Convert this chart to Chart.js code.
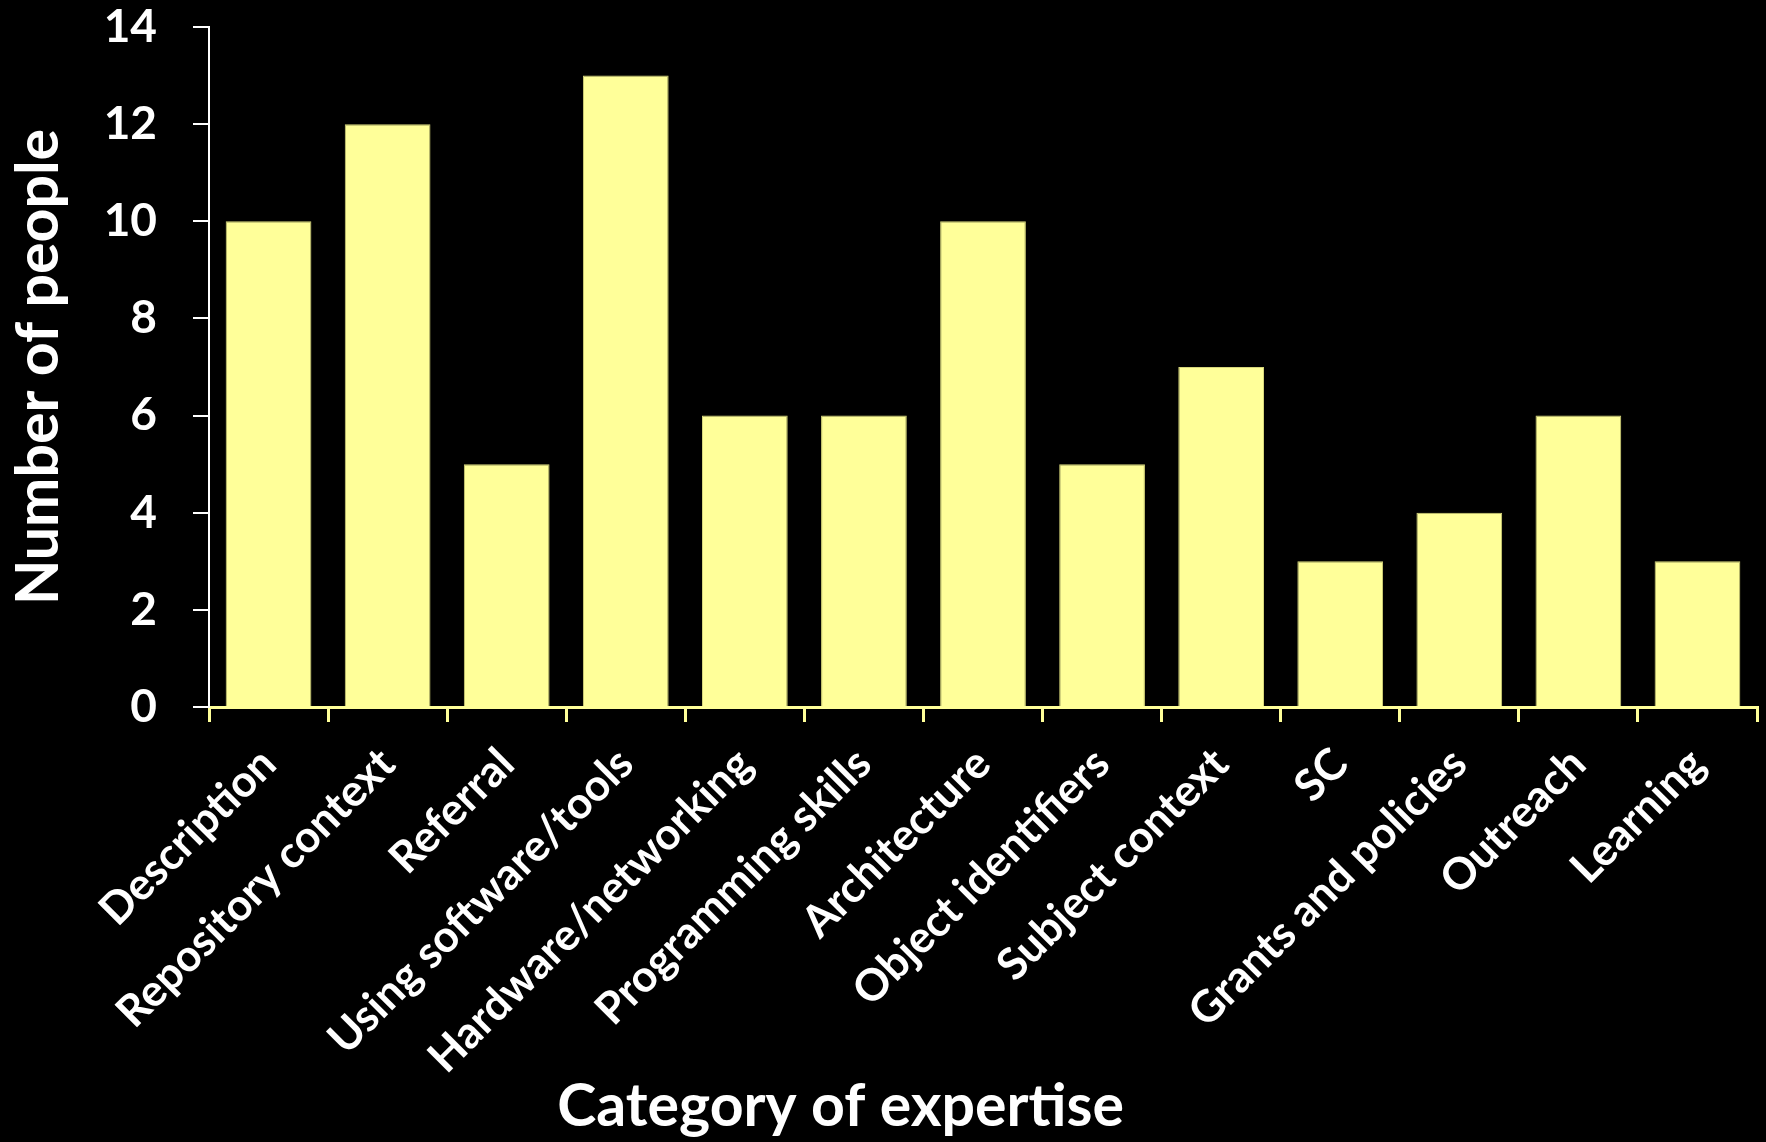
<!DOCTYPE html>
<html>
<head>
<meta charset="UTF-8">
<title>Category of expertise</title>
<style>
  html, body { margin: 0; padding: 0; background: #000; }
  canvas { display: block; background: #000; }
</style>
</head>
<body>

<script src="https://cdn.jsdelivr.net/npm/chart.js@4.4.0/dist/chart.umd.min.js"></script>

<canvas id="expertiseChart" width="1766" height="1142"></canvas>

<script>
// data
var categories = ['Description', 'Repository context', 'Referral', 'Using software/tools',
  'Hardware/networking', 'Programming skills', 'Architecture', 'Object identifiers',
  'Subject context', 'SC', 'Grants and policies', 'Outreach', 'Learning'];
var people = [10, 12, 5, 13, 6, 6, 10, 5, 7, 3, 4, 6, 3];
var yTicks = [0, 2, 4, 6, 8, 10, 12, 14];

var yTitle = 'Number of people';
var xTitle = 'Category of expertise';

var barYellow = '#FFFF99';
var fontFamily = 'Lato, "Open Sans", sans-serif';

// x axis title sits a bit left of the plot centre in the original
var xTitlePlugin = {
  id: 'xTitle',
  afterDraw: function (chart) {
    var ctx = chart.ctx;
    var area = chart.chartArea;
    ctx.save();
    ctx.fillStyle = '#ffffff';
    ctx.font = 'bold 59px ' + fontFamily;
    ctx.textAlign = 'center';
    ctx.textBaseline = 'alphabetic';
    ctx.fillText(xTitle, area.left + (area.right - area.left) * 0.408, 1126);
    ctx.restore();
  }
};

var ctx = document.getElementById('expertiseChart').getContext('2d');
var expertiseChart = new Chart(ctx, {
  type: 'bar',
  data: {
    labels: categories,
    datasets: [{
      label: yTitle,
      data: people,
      backgroundColor: barYellow,
      borderColor: '#d6d67a',
      borderWidth: 1,
      barPercentage: 0.72,
      categoryPercentage: 1.0
    }]
  },
  options: {
    responsive: false,
    animation: false,
    layout: { padding: { top: 0, right: 9, left: 0, bottom: 0 } },
    plugins: {
      legend: { display: false },
      tooltip: { enabled: false }
    },
    scales: {
      x: {
        grid: {
          display: true,
          drawOnChartArea: false,
          color: barYellow,
          lineWidth: 3,
          tickLength: 15,
          offset: true
        },
        border: { color: barYellow, width: 3 },
        ticks: {
          color: '#ffffff',
          font: { family: fontFamily, size: 44, weight: 'bold' },
          minRotation: 45,
          maxRotation: 45,
          autoSkip: false,
          padding: 16
        },
        afterFit: function (scale) { scale.height = 435; }
      },
      y: {
        min: 0,
        max: 14,
        afterBuildTicks: function (scale) {
          scale.ticks = yTicks.map(function (v) { return { value: v }; });
        },
        grid: {
          drawOnChartArea: false,
          color: '#ffffff',
          lineWidth: 2,
          tickLength: 16
        },
        border: { color: '#ffffff', width: 2 },
        ticks: {
          color: '#ffffff',
          font: { family: fontFamily, size: 46, weight: 'bold' },
          padding: 36
        },
        title: {
          display: true,
          text: yTitle,
          color: '#ffffff',
          font: { family: fontFamily, size: 59, weight: 'bold' },
          padding: { top: 4, bottom: 0 }
        },
        afterFit: function (scale) {
          // tick padding is otherwise added above the top label too
          scale.width = 209;
          scale.paddingTop = 27;
          scale.paddingBottom = 0;
        }
      }
    }
  },
  plugins: [xTitlePlugin]
});
</script>

</body>
</html>
